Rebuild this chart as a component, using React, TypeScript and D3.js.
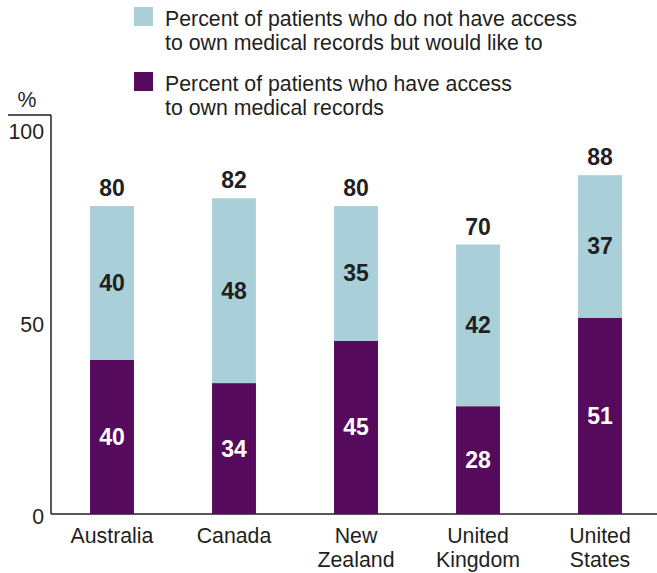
import React from "react";
import * as d3 from "d3";

const categories = [["Australia"], ["Canada"], ["New", "Zealand"], ["United", "Kingdom"], ["United", "States"]];
const haveAccess = [40, 34, 45, 28, 51];
const wouldLike = [40, 48, 35, 42, 37];
const totals = [80, 82, 80, 70, 88];
const yTicks = [0, 50, 100];
const legendLabels = [
  ["Percent of patients who do not have access", "to own medical records but would like to"],
  ["Percent of patients who have access", "to own medical records"],
];

const LIGHT = "#a9d0d9";
const DARK = "#560a5c";
const TEXT = "#231f20";
const FONT = "'Liberation Sans', Arial, sans-serif";
const FS = 21.3;
const VFS = 23;

export default function App() {
  const W = 657, H = 573;
  const y = d3.scaleLinear().domain([0, 100]).range([514, 129]);
  const x = d3.scaleBand().domain(categories.map((c) => c.join(" "))).range([51, 661]).paddingInner(0.64).paddingOuter(0.32);
  const bw = x.bandwidth();
  return (
    <svg width={W} height={H} style={{ position: "absolute", left: 0, top: 0 }} fontFamily={FONT}>
      {legendLabels.map((lines, i) => (
        <g key={i} transform={`translate(0,${i * 65})`}>
          <rect x={134} y={7} width={19} height={19} fill={i === 0 ? LIGHT : DARK} />
          {lines.map((t, j) => (
            <text key={j} x={165} y={26 + j * 24} fontSize={FS} fill={TEXT}>{t}</text>
          ))}
        </g>
      ))}
      <text x={27} y={107} fontSize={FS} fill={TEXT} textAnchor="middle">%</text>
      <line x1={8} x2={51} y1={115} y2={115} stroke={TEXT} strokeWidth={1.5} />
      <line x1={51} x2={51} y1={115} y2={514} stroke={TEXT} strokeWidth={1.5} />
      <line x1={51} x2={657} y1={514} y2={514} stroke={TEXT} strokeWidth={1.5} />
      {yTicks.map((t) => (
        <text key={t} x={44} y={y(t) + 10} fontSize={FS} fill={TEXT} textAnchor="end">{t}</text>
      ))}
      {categories.map((c, i) => {
        const key = c.join(" ");
        const x0 = x(key)!;
        const cx = x0 + bw / 2;
        const yb = y(haveAccess[i]);
        const yt = y(haveAccess[i] + wouldLike[i]);
        return (
          <g key={key}>
            <rect x={x0} y={yb} width={bw} height={y(0) - yb} fill={DARK} />
            <rect x={x0} y={yt} width={bw} height={yb - yt} fill={LIGHT} />
            <text x={cx} y={(yb + y(0)) / 2 + 8} fontSize={VFS} fontWeight="bold" fill="#fff" textAnchor="middle">{haveAccess[i]}</text>
            <text x={cx} y={(yt + yb) / 2 + 8} fontSize={VFS} fontWeight="bold" fill={TEXT} textAnchor="middle">{wouldLike[i]}</text>
            <text x={cx} y={y(totals[i]) - 10} fontSize={VFS} fontWeight="bold" fill={TEXT} textAnchor="middle">{totals[i]}</text>
            {c.map((t, j) => (
              <text key={j} x={cx} y={543 + j * 24} fontSize={FS} fill={TEXT} textAnchor="middle">{t}</text>
            ))}
          </g>
        );
      })}
    </svg>
  );
}
